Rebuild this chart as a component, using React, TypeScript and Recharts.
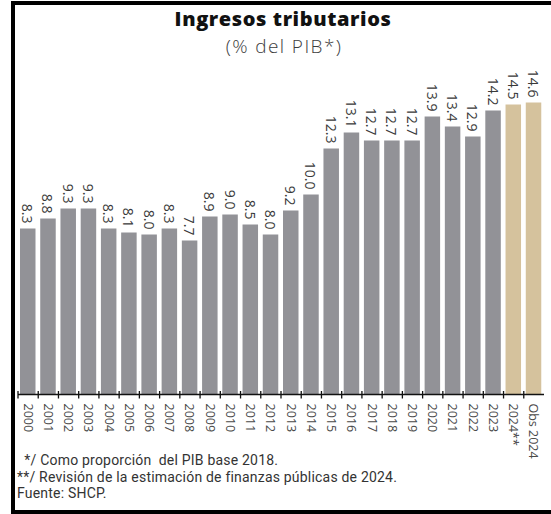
import { BarChart, Bar, XAxis, YAxis, Cell, LabelList } from 'recharts'

const years = ['2000', '2001', '2002', '2003', '2004', '2005', '2006', '2007', '2008', '2009', '2010', '2011', '2012', '2013', '2014', '2015', '2016', '2017', '2018', '2019', '2020', '2021', '2022', '2023', '2024**', 'Obs 2024']
const ingresos = [8.3, 8.8, 9.3, 9.3, 8.3, 8.1, 8.0, 8.3, 7.7, 8.9, 9.0, 8.5, 8.0, 9.2, 10.0, 12.3, 13.1, 12.7, 12.7, 12.7, 13.9, 13.4, 12.9, 14.2, 14.5, 14.6]
const estimados = ['2024**', 'Obs 2024']

const notas = [
  '  */ Como proporción  del PIB base 2018.',
  '**/ Revisión de la estimación de finanzas públicas de 2024.',
  'Fuente: SHCP.',
]

const W = 551
const H = 514
const PLOT_LEFT = 18
const PLOT_RIGHT = 544
const PLOT_TOP = 74.5
const AXIS_Y = 394.5
const BAND = (PLOT_RIGHT - PLOT_LEFT) / years.length
const FONT = '"Open Sans", "Noto Sans", sans-serif'

const GRAY = '#929297'
const TAN = '#d5c29d'

const data = years.map((y, i) => ({ year: y, value: ingresos[i] }))

function AxisTick(props: any) {
  const { x, payload } = props
  const left = x - BAND / 2
  const ty = AXIS_Y + 9
  return (
    <g>
      <line x1={left} x2={left} y1={AXIS_Y - 3.5} y2={AXIS_Y + 4} stroke="#111" strokeWidth={1.3} />
      <text
        x={x}
        y={ty}
        transform={`rotate(90, ${x}, ${ty})`}
        textAnchor="start"
        dominantBaseline="central"
        fontSize={12.5}
        fontFamily={FONT}
        fill="#4a4a4a"
      >
        {payload.value}
      </text>
    </g>
  )
}

function ValueLabel(props: any) {
  const { x, y, width, value } = props
  const cx = x + width / 2
  const cy = y - 5
  return (
    <text
      x={cx}
      y={cy}
      transform={`rotate(90, ${cx}, ${cy})`}
      textAnchor="end"
      dominantBaseline="central"
      fontSize={14}
      fontFamily={FONT}
      fill="#3a3a3a"
    >
      {Number(value).toFixed(1)}
    </text>
  )
}

export default function App() {
  return (
    <div style={{ position: 'relative', width: W, height: H, overflow: 'hidden', background: '#fff', fontFamily: FONT }}>
      <style>{'body{margin:0}'}</style>
      <div
        style={{
          position: 'absolute', left: 11, top: 1, width: 600, height: H - 1,
          border: '4px solid #000', boxSizing: 'border-box',
        }}
      />
      <div style={{ position: 'absolute', left: 0, width: 566, top: 8.2, textAlign: 'center', fontSize: 20, fontWeight: 800, letterSpacing: 0.6, color: '#111', lineHeight: '22px' }}>
        Ingresos tributarios
      </div>
      <div style={{ position: 'absolute', left: 0, width: 568, top: 35.9, textAlign: 'center', fontSize: 19, fontWeight: 300, letterSpacing: 1.4, color: '#3c3c3c', lineHeight: '20px' }}>
        (% del PIB*)
      </div>
      <div style={{ position: 'absolute', left: 0, top: 0 }}>
        <BarChart
          width={W}
          height={H}
          data={data}
          margin={{ top: PLOT_TOP, right: W - PLOT_RIGHT, left: PLOT_LEFT, bottom: H - AXIS_Y - 30 }}
          barSize={15.5}
        >
          <YAxis hide domain={[0, 16]} />
          <XAxis
            dataKey="year"
            interval={0}
            tickLine={false}
            axisLine={{ stroke: '#111', strokeWidth: 1.5 }}
            tick={<AxisTick />}
          />
          <Bar dataKey="value" isAnimationActive={false}>
            {data.map((d) => (
              <Cell key={d.year} fill={estimados.includes(d.year) ? TAN : GRAY} />
            ))}
            <LabelList dataKey="value" content={<ValueLabel />} />
          </Bar>
        </BarChart>
      </div>
      {notas.map((n, i) => (
        <div
          key={i}
          style={{ position: 'absolute', left: 17, top: 452 + i * 16.5, fontFamily: 'Roboto, sans-serif', fontSize: 14, letterSpacing: 0.2, color: '#333', whiteSpace: 'pre', lineHeight: '16.5px' }}
        >
          {n}
        </div>
      ))}
    </div>
  )
}
